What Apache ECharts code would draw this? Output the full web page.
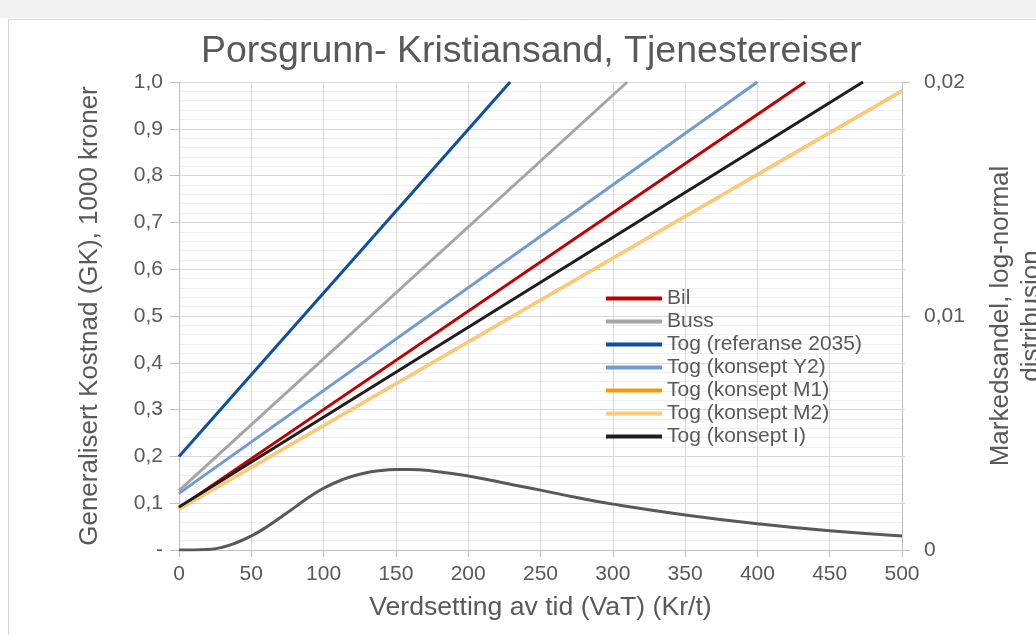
<!DOCTYPE html>
<html>
<head>
<meta charset="utf-8">
<script src="https://cdn.jsdelivr.net/npm/echarts@6/dist/echarts.min.js"></script>
<style>html,body{margin:0;padding:0;background:#fff;}#c{width:1036px;height:635px;}</style>
</head>
<body>
<div id="c"></div>
<script>
// Generalised cost lines [VaT, GK (1000 kr)]
const bil      = [[0, 0.090], [433, 1.0]];
const buss     = [[0, 0.127], [310, 1.0]];
const togRef   = [[0, 0.200], [229, 1.0]];
const togY2    = [[0, 0.121], [400, 1.0]];
const togM1    = [[0, 0.087], [500, 0.981]];
const togM2    = [[0, 0.087], [500, 0.981]];
const togI     = [[0, 0.092], [473, 1.0]];
// Log-normal distribution (market share, right axis)
const lognormX = [0, 10, 20, 30, 40, 50, 60, 75, 90, 100, 112, 125, 140, 150, 160, 175, 200, 225, 250, 275, 300, 350, 400, 450, 500];
const lognormY = [0, 0, 0.00002, 0.00012, 0.00032, 0.0006, 0.00096, 0.0016, 0.00226, 0.00264, 0.00298, 0.00324, 0.0034, 0.00344, 0.00344, 0.00338, 0.00316, 0.00286, 0.00256, 0.00224, 0.00196, 0.0015, 0.00112, 0.00082, 0.0006];
const xTicks = { min: 0, max: 500, interval: 50 };
const legendNames = ['Bil', 'Buss', 'Tog (referanse 2035)', 'Tog (konsept Y2)', 'Tog (konsept M1)', 'Tog (konsept M2)', 'Tog (konsept I)'];
const seriesData = [bil, buss, togRef, togY2, togM1, togM2, togI];
const colors = ['#C00000', '#A5A5A5', '#0D4FA0', '#6F9BD2', '#F59A00', '#FFC97A', '#1E1E1E'];

const FONT = 'Liberation Sans, Arial, sans-serif';
const TXT = '#595959';
const chart = echarts.init(document.getElementById('c'), null, { renderer: 'canvas' });

const series = seriesData.map((d, i) => ({
  name: legendNames[i], type: 'line', data: d, symbol: 'none', yAxisIndex: 0,
  lineStyle: { color: colors[i], width: 3 }, itemStyle: { color: colors[i] }, z: 3 + i
}));
series.push({
  name: 'Markedsandel', type: 'line', yAxisIndex: 1, smooth: true, symbol: 'none',
  data: lognormX.map((x, i) => [x, lognormY[i]]),
  lineStyle: { color: '#595959', width: 3 }, itemStyle: { color: '#595959' }, z: 2
});

chart.setOption({
  animation: false,
  textStyle: { fontFamily: FONT },
  graphic: [
    { type: 'rect', shape: { x: 0, y: 0, width: 1036, height: 18 }, style: { fill: '#f2f2f2' }, silent: true },
    { type: 'rect', shape: { x: 8.5, y: 19.5, width: 1100, height: 700 }, style: { fill: 'none', stroke: '#d4d4d4', lineWidth: 1 }, silent: true }
  ],
  title: {
    text: 'Porsgrunn- Kristiansand, Tjenestereiser', left: 196, top: 28,
    textStyle: { fontFamily: FONT, fontSize: 37.5, fontWeight: 'normal', color: TXT }
  },
  legend: {
    data: legendNames, orient: 'vertical', left: 601, top: 283, icon: 'rect',
    itemWidth: 56, itemHeight: 4, itemGap: 2,
    textStyle: { fontFamily: FONT, fontSize: 21, color: TXT, lineHeight: 21 }
  },
  grid: { left: 179, right: 134, top: 82, bottom: 85, containLabel: false, outerBoundsMode: 'none' },
  xAxis: {
    type: 'value', min: xTicks.min, max: xTicks.max, interval: xTicks.interval,
    name: 'Verdsetting av tid (VaT) (Kr/t)', nameLocation: 'middle', nameGap: 44,
    nameTextStyle: { fontFamily: FONT, fontSize: 26.6, color: TXT },
    axisLine: { show: true, lineStyle: { color: '#bfbfbf', width: 1 } },
    axisTick: { show: true, length: 7, lineStyle: { color: '#bfbfbf' } },
    axisLabel: { fontFamily: FONT, fontSize: 21, color: TXT, margin: 14 },
    splitLine: { show: true, lineStyle: { color: '#d9d9d9', width: 1 } }
  },
  yAxis: [
    {
      type: 'value', min: 0, max: 1, interval: 0.1, position: 'left',
      name: 'Generalisert Kostnad (GK), 1000 kroner', nameLocation: 'middle', nameGap: 76,
      nameTextStyle: { fontFamily: FONT, fontSize: 26, color: TXT },
      axisLine: { show: true, lineStyle: { color: '#bfbfbf', width: 1 } },
      axisTick: { show: true, length: 9, lineStyle: { color: '#bfbfbf' } },
      axisLabel: {
        fontFamily: FONT, fontSize: 21, color: TXT, margin: 16,
        formatter: v => v === 0 ? '-' : v.toFixed(1).replace('.', ',')
      },
      splitLine: { show: true, lineStyle: { color: '#d9d9d9', width: 1 } },
      minorTick: { show: false, splitNumber: 5 },
      minorSplitLine: { show: true, lineStyle: { color: '#efefef', width: 1 } }
    },
    {
      type: 'value', min: 0, max: 0.02, interval: 0.01, position: 'right',
      name: 'Markedsandel, log-normal\ndistribusjon', nameLocation: 'middle', nameGap: 83,
      nameTextStyle: { fontFamily: FONT, fontSize: 26, color: TXT, lineHeight: 31 },
      axisLine: { show: true, lineStyle: { color: '#bfbfbf', width: 1 } },
      axisTick: { show: true, length: 8, lineStyle: { color: '#bfbfbf' } },
      minorTick: { show: true, splitNumber: 5, length: 3, lineStyle: { color: '#d9d9d9' } },
      axisLabel: {
        fontFamily: FONT, fontSize: 21, color: TXT, margin: 22,
        formatter: v => v === 0 ? '0' : v.toFixed(2).replace('.', ',')
      },
      splitLine: { show: false }
    }
  ],
  series: series
});
</script>
</body>
</html>
